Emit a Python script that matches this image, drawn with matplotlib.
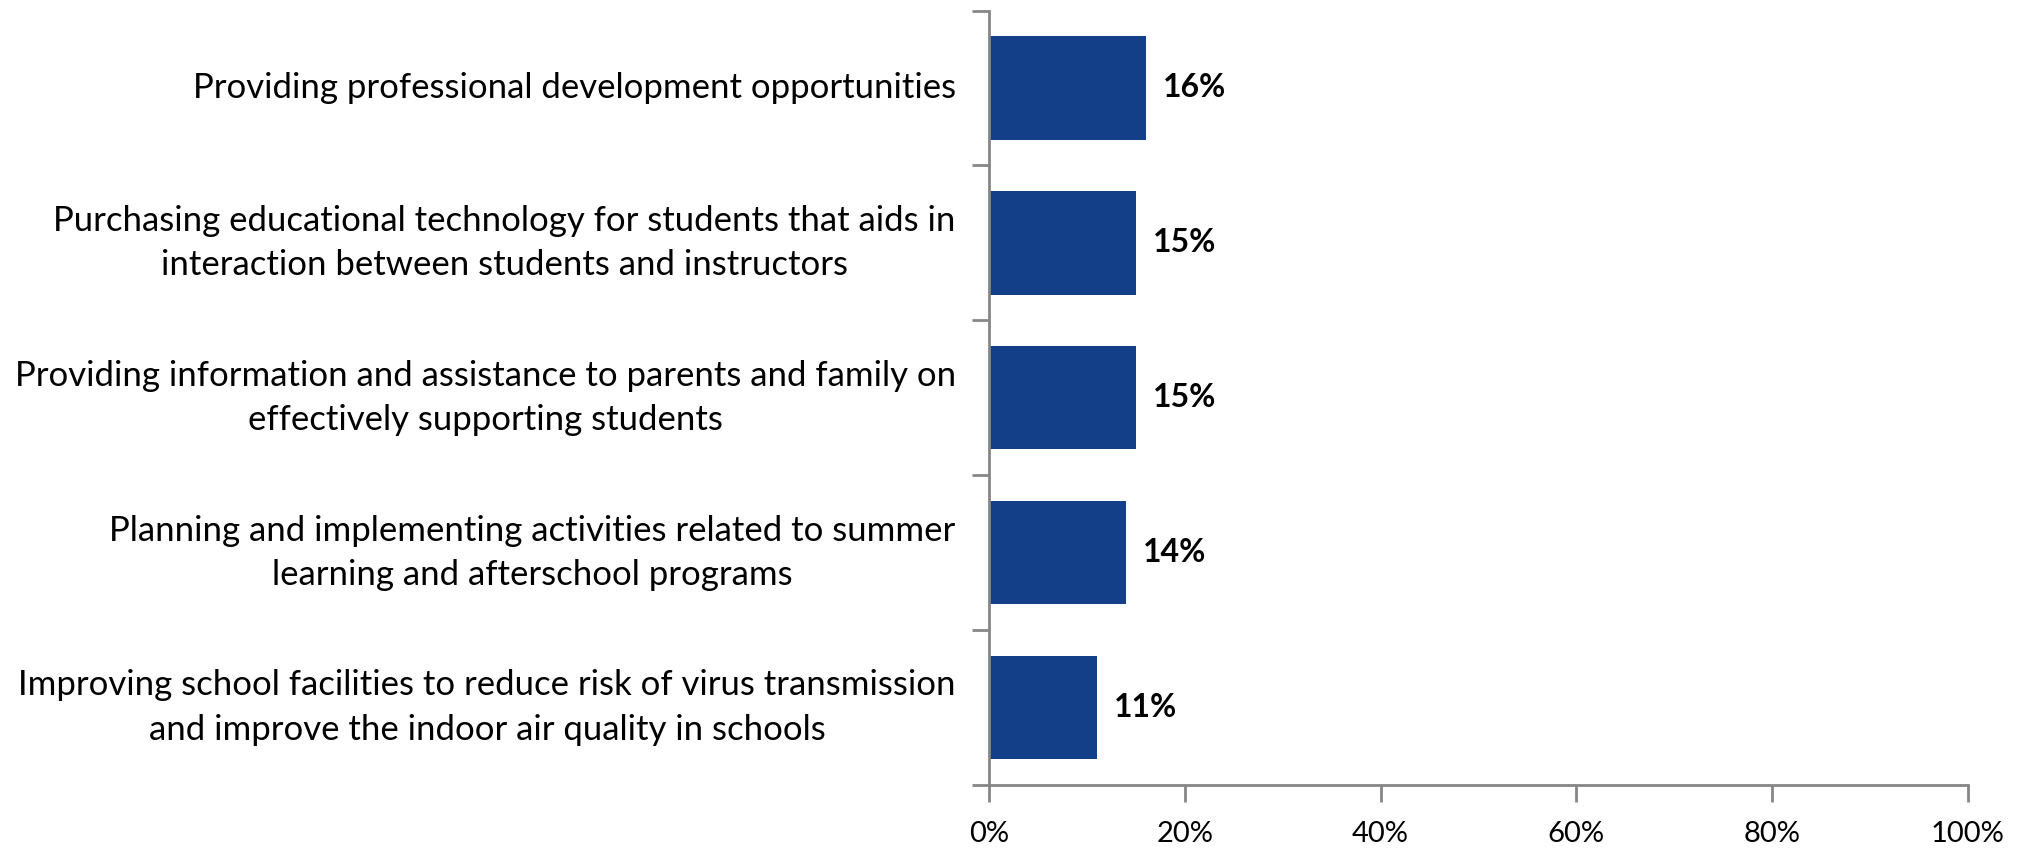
import matplotlib.pyplot as plt
from matplotlib.ticker import FixedLocator

plt.rcParams['font.family'] = ['Lato', 'DejaVu Sans']

categories = [
    "Providing professional development opportunities",
    "Purchasing educational technology for students that aids in\ninteraction between students and instructors",
    "Providing information and assistance to parents and family on\neffectively supporting students",
    "Planning and implementing activities related to summer\nlearning and afterschool programs",
    "Improving school facilities to reduce risk of virus transmission\nand improve the indoor air quality in schools",
]
values = [16, 15, 15, 14, 11]
x_ticks = [0, 20, 40, 60, 80, 100]
x_tick_labels = ["0%", "20%", "40%", "60%", "80%", "100%"]

bar_color = "#133F88"
axis_color = "#868686"

fig = plt.figure(figsize=(20.28, 8.48), dpi=100)
ax = fig.add_axes([0.4877, 0.0743, 0.9704 - 0.4877, 0.9876 - 0.0743])

pos = list(range(len(categories)))
ax.barh(pos, values, height=0.667, color=bar_color)
for y, v in zip(pos, values):
    ax.annotate(f"{v}%", (v, y), xytext=(17, 0), textcoords="offset pixels",
                va="center", ha="left", fontsize=23, fontweight="bold")

ax.set_xlim(0, 100)
ax.set_ylim(len(categories) - 0.5, -0.5)

ax.set_xticks(x_ticks)
ax.set_xticklabels(x_tick_labels, fontsize=21)

# category boundaries get tick marks, labels sit in the middle
ax.yaxis.set_major_locator(FixedLocator([i - 0.5 for i in range(len(categories) + 1)]))
ax.set_yticklabels([])
ax.set_yticks(pos, minor=True)
ax.set_yticklabels(categories, minor=True, fontsize=25, ha="right", va="center",
                   multialignment="center", linespacing=1.47)
ax.tick_params(axis="y", which="minor", length=0, pad=24)

ax.tick_params(axis="both", which="major", length=12, width=2, color=axis_color, direction="out")
ax.tick_params(axis="x", pad=14)

for s in ["top", "right"]:
    ax.spines[s].set_visible(False)
for s in ["left", "bottom"]:
    ax.spines[s].set_color(axis_color)
    ax.spines[s].set_linewidth(2)

fig.savefig("out.png", dpi=100)
